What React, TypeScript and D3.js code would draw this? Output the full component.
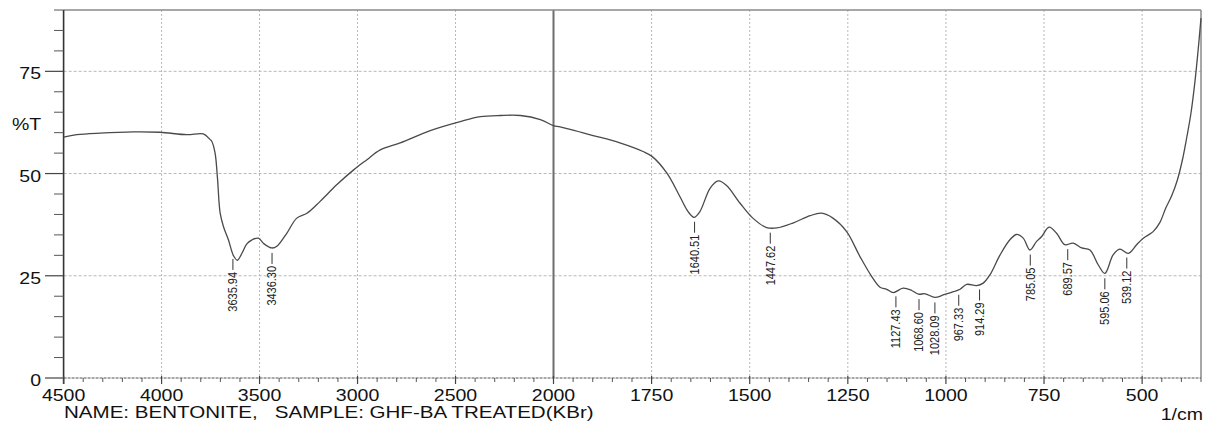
import React from "react";
import * as d3 from "d3";

const wavenumbers = [
  4500, 4433, 4314, 4144, 4008, 3871, 3787, 3752, 3744, 3727, 3715, 3701, 3684, 3659, 3633, 3613, 3590, 3565, 3538,
  3506, 3477, 3437, 3410, 3361, 3310, 3258, 3191, 3105, 3020, 2952, 2884, 2782, 2629, 2476, 2373, 2271, 2169, 2067,
  2000, 1983, 1899, 1831, 1772, 1749, 1711, 1678, 1657, 1642, 1627, 1601, 1580, 1559, 1525, 1492, 1457, 1431, 1390,
  1346, 1317, 1288, 1253, 1219, 1189, 1168, 1151, 1134, 1109, 1087, 1070, 1053, 1028, 1007, 981, 964, 947, 922, 905,
  888, 862, 837, 820, 803, 786, 769, 756, 737, 718, 697, 676, 654, 633, 612, 595, 574, 557, 535, 514, 497, 472, 455,
  440, 425, 410, 397, 386, 376, 366, 357, 350,
];
const transmittance = [
  58.9, 59.5, 59.9, 60.2, 60.1, 59.5, 59.7, 58.3, 57.9, 55.0, 49.0, 40.3, 37.0, 33.8, 29.9, 28.8, 30.5, 32.8, 33.8,
  34.2, 32.8, 31.8, 32.3, 35.4, 39.1, 40.3, 43.2, 47.3, 50.9, 53.4, 55.8, 57.5, 60.5, 62.7, 63.9, 64.2, 64.2, 63.2,
  61.7, 61.4, 59.3, 57.5, 55.4, 54.2, 50.1, 44.4, 40.7, 39.3, 40.7, 46.4, 48.2, 47.1, 42.8, 39.1, 36.8, 36.7, 37.9,
  39.7, 40.3, 39.1, 35.8, 29.7, 24.8, 22.2, 21.7, 20.9, 22.0, 21.4, 20.5, 20.6, 19.7, 20.3, 21.1, 21.7, 22.9, 22.6, 23.2,
  25.2, 30.1, 33.8, 35.1, 34.2, 31.3, 33.4, 34.6, 36.9, 35.4, 32.6, 33.0, 31.8, 31.3, 27.7, 25.6, 30.1, 31.5, 30.5, 32.6, 34.2, 35.8, 38.0,
  41.5, 44.5, 48.5, 53.5, 59.0, 64.5, 72.0, 80.5, 88.0,
];

const peakWavenumbers = [3635.94, 3436.3, 1640.51, 1447.62, 1127.43, 1068.6, 1028.09, 967.33, 914.29, 785.05, 689.57, 595.06, 539.12];
const peakLabels = ["3635.94", "3436.30", "1640.51", "1447.62", "1127.43", "1068.60", "1028.09", "967.33", "914.29", "785.05", "689.57", "595.06", "539.12"];

const xMajorTicks = [4500, 4000, 3500, 3000, 2500, 2000, 1750, 1500, 1250, 1000, 750, 500];
const xGridTicks = [4000, 3500, 3000, 2500, 1750, 1500, 1250, 1000, 750, 500];
const yMajorTicks = [0, 25, 50, 75];
const yGridTicks = [25, 50, 75];

const titleText = "NAME: BENTONITE,   SAMPLE: GHF-BA TREATED(KBr)";
const FONT = "'Liberation Sans', Arial, Helvetica, sans-serif";
const SX = 1.22;

export default function App() {
  const x = d3.scaleLinear().domain([4500, 2000, 350]).range([63.6, 553.5, 1201]);
  const y = d3.scaleLinear().domain([0, 90]).range([378, 10]);

  const pts: [number, number][] = wavenumbers.map((w, i) => [w, transmittance[i]]);
  const line = d3
    .line<[number, number]>()
    .x((d) => x(d[0]))
    .y((d) => y(d[1]))
    .curve(d3.curveCatmullRom.alpha(0.5));

  const asc = pts.slice().reverse();
  const interp = (w: number) => {
    const i = d3.bisector((d: [number, number]) => d[0]).left(asc, w);
    const a = asc[Math.max(0, i - 1)];
    const b = asc[Math.min(asc.length - 1, i)];
    if (a[0] === b[0]) return a[1];
    return a[1] + ((w - a[0]) / (b[0] - a[0])) * (b[1] - a[1]);
  };

  const minorX: number[] = [];
  for (let w = 4400; w > 2000; w -= 100) if (w % 500 !== 0) minorX.push(w);
  for (let w = 1950; w >= 350; w -= 50) if (w % 250 !== 0) minorX.push(w);
  const minorY: number[] = [];
  for (let v = 5; v <= 90; v += 5) if (v % 25 !== 0) minorY.push(v);

  const x0 = x(4500);
  const x1 = x(350);
  const yb = y(0);
  const yt = y(90);

  return (
    <svg width={1211} height={430} style={{ position: "absolute", left: 0, top: 0, background: "#fff" }}>
      <rect x={0} y={0} width={1211} height={430} fill="#fff" />
      {/* grid */}
      {xGridTicks.map((t) => (
        <line key={"gx" + t} x1={x(t)} x2={x(t)} y1={yt} y2={yb} stroke="#b8b8b8" strokeWidth={1} strokeDasharray="2,2" />
      ))}
      {yGridTicks.map((t) => (
        <line key={"gy" + t} x1={x0} x2={x1} y1={y(t)} y2={y(t)} stroke="#b8b8b8" strokeWidth={1} strokeDasharray="3,2" />
      ))}
      {/* 2000 divider */}
      <line x1={x(2000)} x2={x(2000)} y1={yt} y2={yb} stroke="#6e6e6e" strokeWidth={2} />
      {/* frame */}
      <line x1={x0} x2={x1} y1={yt} y2={yt} stroke="#8a8a8a" strokeWidth={1.5} />
      <line x1={x1} x2={x1} y1={yt} y2={yb} stroke="#8a8a8a" strokeWidth={1.5} />
      <line x1={x0} x2={x1} y1={yb} y2={yb} stroke="#555" strokeWidth={1} strokeDasharray="3,1" />
      <line x1={x0} x2={x0} y1={yt} y2={yb + 6} stroke="#333" strokeWidth={1.6} />
      {/* x ticks */}
      {xMajorTicks.map((t) => (
        <line key={"xt" + t} x1={x(t)} x2={x(t)} y1={yb - 2} y2={yb + 6} stroke="#444" strokeWidth={1.2} />
      ))}
      {minorX.map((t) => (
        <line key={"xm" + t} x1={x(t)} x2={x(t)} y1={yb} y2={yb + 4} stroke="#555" strokeWidth={1} />
      ))}
      {/* y ticks */}
      {yMajorTicks.map((t) => (
        <line key={"yt" + t} x1={45} x2={x0} y1={y(t)} y2={y(t)} stroke="#444" strokeWidth={1.2} />
      ))}
      {minorY.map((t) => (
        <line key={"ym" + t} x1={54} x2={x0} y1={y(t)} y2={y(t)} stroke="#555" strokeWidth={1} />
      ))}
      {/* y labels */}
      {yMajorTicks.map((t) => (
        <text key={"yl" + t} transform={`translate(41,${y(t) + 8}) scale(${SX},1)`} textAnchor="end" fontFamily={FONT} fontSize={16} fill="#111">
          {t}
        </text>
      ))}
      <text transform={`translate(12,130) scale(${SX},1)`} fontFamily={FONT} fontSize={16} fill="#111">%T</text>
      {/* x labels */}
      {xMajorTicks.map((t) => (
        <text key={"xl" + t} transform={`translate(${x(t)},401) scale(${SX},1)`} textAnchor="middle" fontFamily={FONT} fontSize={16} fill="#111">
          {t}
        </text>
      ))}
      <text transform={`translate(64,418) scale(1.285,1)`} fontFamily={FONT} fontSize={16} fill="#111" style={{ whiteSpace: "pre" }}>
        {titleText}
      </text>
      <text transform={`translate(1203,420) scale(${SX},1)`} textAnchor="end" fontFamily={FONT} fontSize={16} fill="#111">1/cm</text>
      {/* spectrum */}
      <path d={line(pts) || ""} fill="none" stroke="#4a4a4a" strokeWidth={1.3} />
      {/* peak labels */}
      {peakWavenumbers.map((w, i) => {
        const px = x(w);
        const top = y(interp(w)) + 5;
        const bot = top + 11;
        return (
          <g key={"pk" + i}>
            <line x1={px} x2={px} y1={top} y2={bot} stroke="#333" strokeWidth={1} />
            <text
              transform={`translate(${px},${bot + 2}) scale(${SX},1) rotate(-90)`}
              textAnchor="end"
              dominantBaseline="central"
              fontFamily={FONT}
              fontSize={11}
              fill="#222"
            >
              {peakLabels[i]}
            </text>
          </g>
        );
      })}
    </svg>
  );
}
